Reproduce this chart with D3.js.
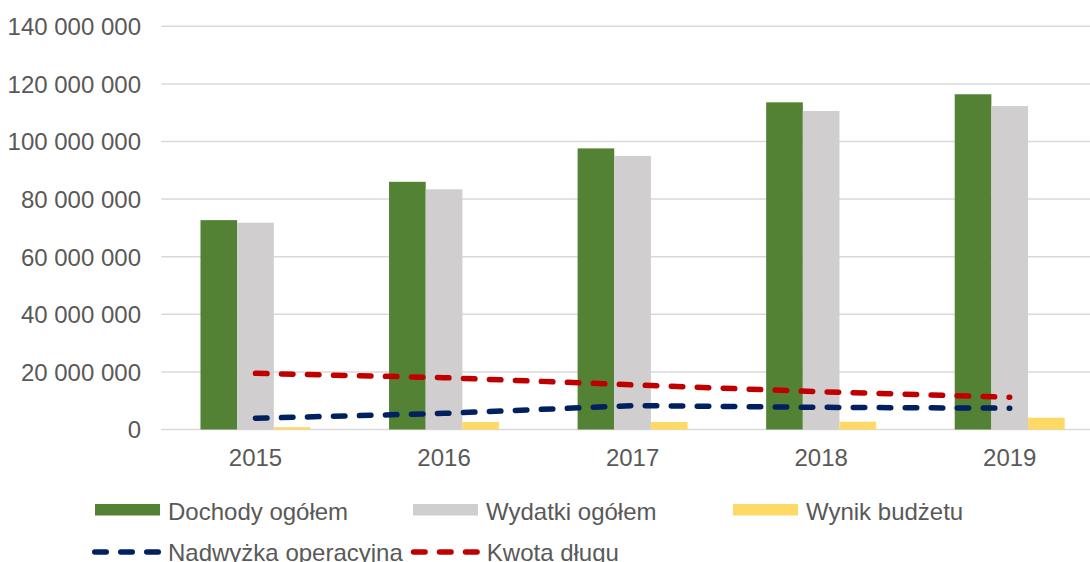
<!DOCTYPE html>
<html>
<head>
<meta charset="utf-8">
<script src="https://cdn.jsdelivr.net/npm/d3@7"></script>
<style>
  html, body { margin: 0; padding: 0; background: #ffffff; }
  svg { display: block; font-family: "Liberation Sans", Arial, sans-serif; }
</style>
</head>
<body>
<svg id="chart" width="1090" height="562"></svg>
<script>
// ---- data ----
const years = ["2015", "2016", "2017", "2018", "2019"];
const dochody = [72.7e6, 86.0e6, 97.6e6, 113.6e6, 116.4e6];
const wydatki = [71.8e6, 83.4e6, 95.0e6, 110.6e6, 112.3e6];
const wynik = [0.8e6, 2.6e6, 2.6e6, 2.7e6, 4.1e6];
const nadwyzka = [3.9e6, 5.6e6, 8.3e6, 7.7e6, 7.4e6];
const dlug = [19.5e6, 18.0e6, 15.5e6, 13.1e6, 11.2e6];
const yTicks = [0, 20e6, 40e6, 60e6, 80e6, 100e6, 120e6, 140e6];
const barSeries = [
  { name: "Dochody ogółem", values: dochody, color: "#548235" },
  { name: "Wydatki ogółem", values: wydatki, color: "#D0CECE" },
  { name: "Wynik budżetu", values: wynik, color: "#FFD966" }
];
const lineSeries = [
  { name: "Nadwyżka operacyjna", values: nadwyzka, color: "#002060" },
  { name: "Kwota długu", values: dlug, color: "#C00000" }
];

// ---- layout ----
const svg = d3.select("#chart");
const textColor = "#595959";
const fontSize = 24;
const plotLeft = 161.2, plotRight = 1104, plotTop = 26.3, plotBottom = 429.5;

const x = d3.scaleBand().domain(years).range([plotLeft, plotRight]).paddingInner(0).paddingOuter(0);
const groupW = 110;
const xs = d3.scaleBand().domain(barSeries.map(d => d.name))
  .range([0, groupW]).padding(0);
const y = d3.scaleLinear().domain([0, 140e6]).range([plotBottom, plotTop]);

const fmt = v => d3.format(",")(v).replace(/,/g, " ");

// gridlines
svg.append("g").selectAll("line").data(yTicks).join("line")
  .attr("x1", plotLeft).attr("x2", 1090)
  .attr("y1", d => y(d)).attr("y2", d => y(d))
  .attr("stroke", "#D9D9D9").attr("stroke-width", 1.5);

// y axis labels
const yAxis = d3.axisLeft(y).tickValues(yTicks).tickFormat(fmt).tickSize(0).tickPadding(0);
const ya = svg.append("g").attr("transform", `translate(141,0)`).call(yAxis);
ya.select(".domain").remove();
ya.selectAll("text").attr("fill", textColor).style("font-size", fontSize + "px")
  .style("font-family", '"Liberation Sans", Arial, sans-serif').attr("dy", "0.35em");

// bars
const groups = svg.append("g").selectAll("g").data(years).join("g")
  .attr("transform", d => `translate(${x(d) + (x.bandwidth() - groupW) / 2},0)`);
groups.selectAll("rect").data((d, i) => barSeries.map(s => ({ s, v: s.values[i] }))).join("rect")
  .attr("x", d => xs(d.s.name)).attr("width", xs.bandwidth())
  .attr("y", d => y(d.v)).attr("height", d => y(0) - y(d.v))
  .attr("fill", d => d.s.color);

// x axis labels
const xAxis = d3.axisBottom(x).tickSize(0).tickPadding(0);
const xa = svg.append("g").attr("transform", `translate(0,${plotBottom})`).call(xAxis);
xa.select(".domain").remove();
xa.selectAll("text").attr("fill", textColor).style("font-size", fontSize + "px")
  .style("font-family", '"Liberation Sans", Arial, sans-serif')
  .attr("y", 0).attr("dy", null).attr("transform", "translate(0,36.5)");

// lines
const line = d3.line().x((d, i) => x(years[i]) + x.bandwidth() / 2).y(d => y(d));
svg.append("g").selectAll("path").data(lineSeries).join("path")
  .attr("d", d => line(d.values))
  .attr("fill", "none").attr("stroke", d => d.color)
  .attr("stroke-width", 5.5).attr("stroke-linecap", "round")
  .attr("stroke-dasharray", "11.5 14.5");

// legend
const leg = svg.append("g");
const row1X = [95, 413, 733];
barSeries.forEach((s, i) => {
  leg.append("rect").attr("x", row1X[i]).attr("y", 504).attr("width", 65).attr("height", 11.5).attr("fill", s.color);
  leg.append("text").attr("x", row1X[i] + 73).attr("y", 520).text(s.name)
    .attr("fill", textColor).style("font-size", fontSize + "px");
});
let lx = 92;
lineSeries.forEach((s) => {
  leg.append("line").attr("x1", lx + 2.75).attr("x2", lx + 68).attr("y1", 552).attr("y2", 552)
    .attr("stroke", s.color).attr("stroke-width", 5.5).attr("stroke-linecap", "round")
    .attr("stroke-dasharray", "11.5 14.5");
  const t = leg.append("text").attr("x", lx + 76).attr("y", 561).text(s.name)
    .attr("fill", textColor).style("font-size", fontSize + "px");
  lx = lx + 76 + t.node().getComputedTextLength() + 8;
});
</script>
</body>
</html>
